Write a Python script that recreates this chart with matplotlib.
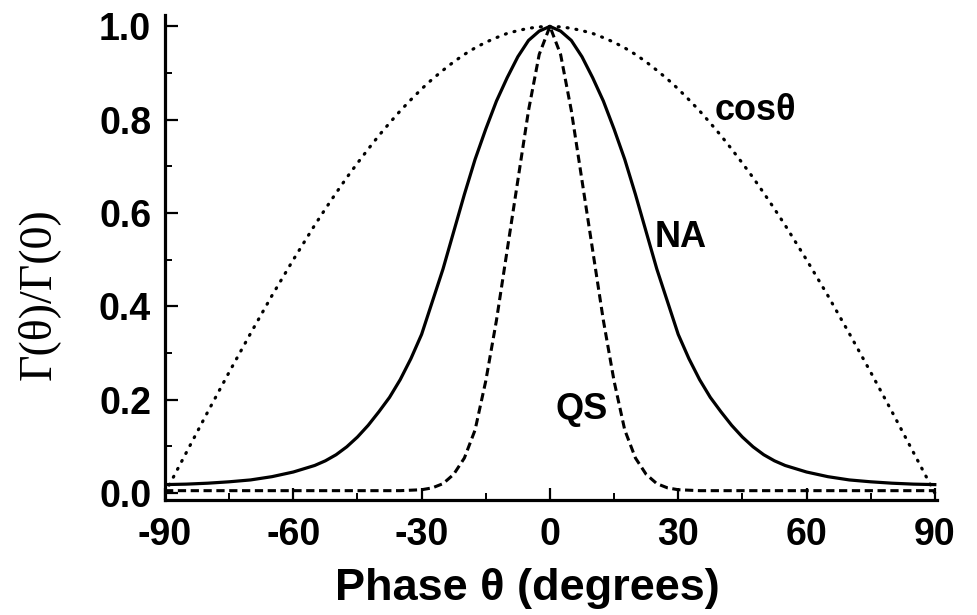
import numpy as np
import matplotlib
matplotlib.use("Agg")
import matplotlib.pyplot as plt
from matplotlib.ticker import MultipleLocator

# phase angle in degrees (half range, mirrored below)
theta_half = [0, 2.5, 5, 7.5, 10, 12.5, 15, 17.5, 20, 22.5, 25, 27.5, 30, 32.5,
              35, 37.5, 40, 42.5, 45, 47.5, 50, 52.5, 55, 60, 65, 70, 75, 80, 85, 90]

# NA curve, solid
na_half = [1.0, 0.99, 0.97, 0.935, 0.89, 0.84, 0.78, 0.715, 0.64, 0.56, 0.48, 0.41, 0.34, 0.288,
           0.243, 0.205, 0.174, 0.145, 0.12, 0.099, 0.082, 0.069, 0.059, 0.045, 0.035, 0.028,
           0.024, 0.021, 0.019, 0.018]

# QS curve, dashed
qs_half = [1.0, 0.94, 0.82, 0.67, 0.52, 0.37, 0.24, 0.135, 0.075, 0.04, 0.02, 0.011, 0.007, 0.006,
           0.005, 0.005, 0.005, 0.005, 0.005, 0.005, 0.005, 0.005, 0.005, 0.005, 0.005, 0.005,
           0.005, 0.005, 0.005, 0.005]

# cos(theta) reference, dotted
cos_half = [1.0, 0.999, 0.996, 0.991, 0.985, 0.976, 0.966, 0.954, 0.94, 0.924, 0.906, 0.887, 0.866,
            0.843, 0.819, 0.793, 0.766, 0.737, 0.707, 0.676, 0.643, 0.609, 0.574, 0.5, 0.423,
            0.342, 0.259, 0.174, 0.087, 0.0]


def mirror(x, y):
    x = np.asarray(x, float)
    y = np.asarray(y, float)
    return np.concatenate([-x[:0:-1], x]), np.concatenate([y[:0:-1], y])


x_tick_vals = [-90, -60, -30, 0, 30, 60, 90]
y_tick_vals = [0.0, 0.2, 0.4, 0.6, 0.8, 1.0]

plt.rcParams['font.family'] = ['Liberation Sans', 'DejaVu Sans']
plt.rcParams['axes.unicode_minus'] = False

fig = plt.figure(figsize=(9.77, 6.15), dpi=100)
ax = fig.add_axes([0.1689, 0.187, 0.959 - 0.1689, 0.976 - 0.187])

x, y = mirror(theta_half, cos_half)
ax.plot(x, y, color='k', lw=2.3, linestyle=(0, (0.3, 2.5)), dash_capstyle='round')
x, y = mirror(theta_half, na_half)
ax.plot(x, y, color='k', lw=2.3)
x, y = mirror(theta_half, qs_half)
ax.plot(x, y, color='k', lw=2.2, linestyle=(0, (2.7, 1.5)))

ax.set_xlim(-90, 90.5)
ax.set_ylim(-0.015, 1.025)

ax.spines['top'].set_visible(False)
ax.spines['right'].set_visible(False)
ax.spines['left'].set_linewidth(2.3)
ax.spines['bottom'].set_linewidth(2.3)

ax.set_xticks(x_tick_vals)
ax.set_yticks(y_tick_vals)
ax.set_yticklabels([f"{v:.1f}" for v in y_tick_vals])
ax.xaxis.set_minor_locator(MultipleLocator(15))
ax.yaxis.set_minor_locator(MultipleLocator(0.1))
ax.tick_params(which='major', direction='in', length=9, width=1.6)
ax.tick_params(which='minor', direction='in', length=5, width=1.4)
ax.tick_params(axis='x', which='major', pad=12)
ax.tick_params(axis='y', which='major', pad=10)
for lab in ax.get_xticklabels() + ax.get_yticklabels():
    lab.set_fontsize(27)
    lab.set_fontweight('bold')

ax.set_xlabel('Phase θ (degrees)', fontsize=32.5, fontweight='bold')
ax.xaxis.set_label_coords(0.469, -0.14)
ax.set_ylabel('Γ(θ)/Γ(0)', fontsize=33, family=['Liberation Serif', 'DejaVu Serif'])
ax.yaxis.set_label_coords(-0.136, 0.425)

ax.text(38.5, 0.82, 'cosθ', fontsize=26, fontweight='bold', ha='left', va='center')
ax.text(24.5, 0.548, 'NA', fontsize=26, fontweight='bold', ha='left', va='center')
ax.text(1.2, 0.18, 'QS', fontsize=26, fontweight='bold', ha='left', va='center')

fig.savefig('out.png', dpi=100)
